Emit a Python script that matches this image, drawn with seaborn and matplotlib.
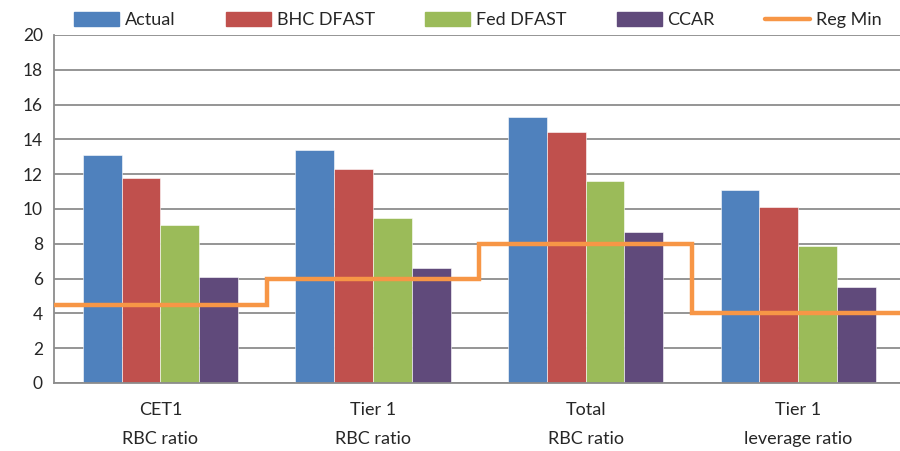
import pandas as pd
import seaborn as sns
import matplotlib.pyplot as plt
from matplotlib.lines import Line2D

categories = ['CET1\nRBC ratio', 'Tier 1\nRBC ratio', 'Total\nRBC ratio', 'Tier 1\nleverage ratio']
series = ['Actual', 'BHC DFAST', 'Fed DFAST', 'CCAR']
actual = [13.1, 13.4, 15.3, 11.1]
bhc_dfast = [11.8, 12.3, 14.4, 10.1]
fed_dfast = [9.1, 9.5, 11.6, 7.9]
ccar = [6.1, 6.6, 8.7, 5.5]
reg_min = [4.5, 6.0, 8.0, 4.0]

colors = ['#4F81BD', '#C0504D', '#9BBB59', '#604A7B']
line_color = '#F79646'

rows = []
for name, vals in zip(series, [actual, bhc_dfast, fed_dfast, ccar]):
    for c, v in zip(categories, vals):
        rows.append({'cat': c, 'series': name, 'value': v})
df = pd.DataFrame(rows)

sns.set_style('white')
plt.rcParams['font.family'] = ['Lato', 'DejaVu Sans']

fig = plt.figure(figsize=(9, 4.51), dpi=100)
ax = fig.add_axes([0.06, 0.1508, 0.945, 0.7716])

sns.barplot(data=df, x='cat', y='value', hue='series', palette=colors,
            width=0.73, gap=0, saturation=1, ax=ax, legend=False,
            edgecolor='white', linewidth=0.4)

# step line for regulatory minimum, one level per group
xs = [-0.5, 0.5, 1.5, 2.5, 3.5]
ax.step(xs, reg_min + [reg_min[-1]], where='post', color=line_color, lw=3.2,
        solid_joinstyle='miter', zorder=4)

ax.set_xlim(-0.5, 3.5)
ax.set_ylim(0, 20)
ax.set_yticks(range(0, 21, 2))
ax.yaxis.grid(True, color='#8c8c8c', lw=1.3)
ax.set_axisbelow(True)
ax.set_xlabel('')
ax.set_ylabel('')

for s in ['top', 'right']:
    ax.spines[s].set_visible(False)
for s in ['left', 'bottom']:
    ax.spines[s].set_color('#8c8c8c')
    ax.spines[s].set_linewidth(1.3)

ax.set_xticks(range(4))
ax.set_xticklabels(categories, linespacing=2.0)
ax.set_xticks([-0.5, 0.5, 1.5, 2.5, 3.5], minor=True)
ax.tick_params(axis='x', which='major', length=0, pad=14, labelsize=13)
ax.tick_params(axis='x', which='minor', length=6, width=1.3, color='#8c8c8c')
ax.tick_params(axis='y', length=5, width=1.3, color='#8c8c8c', labelsize=12.5, pad=3)

handles = [plt.Rectangle((0, 0), 1, 1, color=c) for c in colors]
handles.append(Line2D([0], [0], color=line_color, lw=3.2))
fig.legend(handles, series + ['Reg Min'], loc='center', bbox_to_anchor=(0.531, 0.955),
           ncol=5, frameon=False, fontsize=13, handlelength=2.5, handleheight=0.8,
           handletextpad=0.3, columnspacing=2.8)

fig.savefig('out.png', dpi=100)
